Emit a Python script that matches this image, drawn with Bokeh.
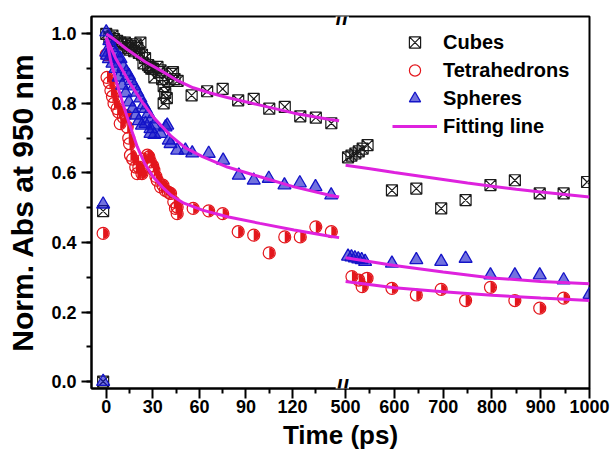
import numpy as np
from bokeh.plotting import figure
from bokeh.models import (Range1d, FixedTicker, SingleIntervalTicker, PrintfTickFormatter,
                          Legend, LegendItem, Label, Title, ColumnDataSource)
from bokeh.embed import file_html
from bokeh.resources import INLINE

# ---------------- data (time in ps, normalized absorbance) ----------------
cube_t = [-2, -2, 0, 2, 4, 5, 7, 9, 10, 12, 13, 14, 15, 16, 18, 19, 20, 21, 22, 23,
          24, 25, 27, 28, 29, 30, 31, 33, 34, 35, 36, 37, 37, 38, 39, 40, 42, 43, 44, 46,
          55, 65, 75, 85, 95, 105, 115, 125, 135, 145,
          505, 512, 520, 527, 535, 545, 595, 645, 696, 746, 797, 847, 898, 947, 995]
cube_v = [0.49, 0.0, 1.00, 0.99, 0.995, 0.985, 0.98, 0.975, 0.97, 0.975,
          0.97, 0.96, 0.955, 0.965, 0.95, 0.97, 0.96, 0.945, 0.975, 0.94,
          0.915, 0.93, 0.91, 0.905, 0.90, 0.90, 0.875, 0.905, 0.89, 0.895,
          0.87, 0.85, 0.80, 0.83, 0.815, 0.865, 0.885, 0.89, 0.87, 0.865,
          0.823, 0.835, 0.842, 0.809, 0.813, 0.785, 0.79, 0.763, 0.759, 0.743,
          0.645, 0.65, 0.656, 0.662, 0.67, 0.68,
          0.55, 0.555, 0.498, 0.522, 0.565, 0.579, 0.541, 0.541, 0.574]

tet_t = [-2, 0, 0.5, 2, 3, 4, 5, 7, 8, 9, 11, 12.5, 13.5, 14.5, 15, 15.6, 17, 19, 20, 21,
         23, 24, 26.5, 27.5, 28.5, 30, 30.7, 32, 32.8, 35, 36.5, 38, 40, 41.4, 43.5, 44.6,
         45.7, 45.7, 56, 66, 75, 85, 95, 105, 115, 125, 135, 145,
         513, 527, 534, 544, 595, 645, 696, 746, 797, 847, 898, 947]
tet_v = [0.426, 0.94, 0.875, 0.86, 0.837, 0.82, 0.80, 0.785, 0.775, 0.742,
         0.76, 0.766, 0.732, 0.70, 0.684, 0.651, 0.64, 0.617, 0.598, 0.617,
         0.598, 0.64, 0.651, 0.646, 0.632, 0.62, 0.608, 0.59, 0.579, 0.56,
         0.565, 0.55, 0.545, 0.541, 0.517, 0.498, 0.502, 0.483, 0.498, 0.491,
         0.483, 0.431, 0.421, 0.37, 0.416, 0.416, 0.445, 0.431,
         0.302, 0.292, 0.273, 0.297, 0.268, 0.249, 0.265, 0.233, 0.271, 0.233, 0.211, 0.24]

sph_t = [-2, -2, 0, 0, 0.5, 1.7, 2, 4, 4, 6, 6, 8, 8, 9.2, 10.3, 11, 12.5, 13, 14.6, 14.6,
         16, 17, 18, 18.9, 20, 21, 22, 23, 24, 25.3, 25.3, 27, 28.5, 28.5, 29, 30.7, 31, 35,
         38.2, 39.3, 40.3, 41.4, 45.7, 51, 55.4, 66, 75.3, 85.4, 95, 104.7, 114.8, 124.7,
         134.8, 144.9, 505, 512, 519, 526, 533, 540, 595, 645, 696, 746, 797, 847, 898, 947, 1000]
sph_v = [0.51, 0.0, 1.005, 0.947, 0.938, 0.928, 0.98, 0.96, 0.915, 0.945,
         0.90, 0.93, 0.875, 0.928, 0.852, 0.905, 0.83, 0.89, 0.88, 0.804,
         0.865, 0.785, 0.85, 0.766, 0.832, 0.75, 0.815, 0.737, 0.795, 0.785,
         0.742, 0.77, 0.727, 0.713, 0.755, 0.737, 0.71, 0.713, 0.732, 0.737,
         0.694, 0.684, 0.665, 0.665, 0.657, 0.656, 0.636, 0.593, 0.579, 0.584,
         0.565, 0.571, 0.56, 0.536,
         0.36, 0.358, 0.355, 0.352, 0.35, 0.345,
         0.34, 0.35, 0.345, 0.354, 0.306, 0.306, 0.306, 0.292, 0.25]

# fitting lines (left and right parts of the broken axis)
cube_fit_l_t = [0, 5, 13.5, 25, 35, 45, 56, 67, 78, 99, 121, 144, 150]
cube_fit_l_v = [1.0, 0.985, 0.955, 0.92, 0.895, 0.868, 0.845, 0.83, 0.817, 0.795, 0.772, 0.754, 0.75]
cube_fit_r_t = [500, 550, 600, 650, 700, 750, 800, 850, 900, 950, 1000]
cube_fit_r_v = [0.622, 0.612, 0.601, 0.591, 0.581, 0.571, 0.562, 0.553, 0.545, 0.538, 0.531]

tet_fit_l_t = [0, 3, 7, 11, 15, 20, 25, 30, 36, 42, 50, 62, 78, 99, 121, 144, 150]
tet_fit_l_v = [0.99, 0.92, 0.855, 0.795, 0.74, 0.675, 0.625, 0.59, 0.56, 0.535, 0.513, 0.493,
               0.474, 0.455, 0.436, 0.418, 0.414]
tet_fit_r_t = [500, 600, 700, 800, 900, 1000]
tet_fit_r_v = [0.288, 0.27, 0.258, 0.248, 0.24, 0.233]

sph_fit_l_t = [0, 6, 15, 23, 31, 42, 51, 62, 78, 99, 121, 144, 150]
sph_fit_l_v = [0.99, 0.93, 0.86, 0.805, 0.757, 0.705, 0.672, 0.647, 0.617, 0.589, 0.56, 0.536, 0.531]
sph_fit_r_t = [500, 600, 700, 800, 900, 1000]
sph_fit_r_v = [0.356, 0.334, 0.315, 0.298, 0.288, 0.281]

left_major = [0, 30, 60, 90, 120]
left_minor = [15, 45, 75, 105, 135]
right_major = [500, 600, 700, 800, 900, 1000]
right_minor = [550, 650, 750, 850, 950]

# ---------------- broken x axis: two linear pieces ----------------
L0, L1 = -9.5, 150.0
R0, R1 = 500.0, 1000.0
KL, KR, GAP = 1.553, 0.488, 6.5
U_R0 = (L1 - L0) * KL + GAP


def u(t):
    t = np.asarray(t, dtype=float)
    return np.where(t <= L1 + 1e-9, (t - L0) * KL, U_R0 + (t - R0) * KR)


U_END = float(u([R1])[0])
U_BREAK = ((L1 - L0) * KL + U_R0) / 2

RED = "#E3161C"
BLUE = "#1414C8"
MAG = "#DE22DE"
FONT = "Liberation Sans"

p = figure(width=612, height=453, output_backend="svg", toolbar_location=None,
           x_range=Range1d(0, U_END), y_range=Range1d(-0.02, 1.05),
           min_border_left=91, min_border_right=23, min_border_top=16, min_border_bottom=65)
p.grid.visible = False
p.outline_line_color = "black"
p.outline_line_width = 2
p.background_fill_color = "white"
p.border_fill_color = "white"

xt = [float(v) for v in u(left_major + right_major)]
xm = [float(v) for v in u(left_minor + right_minor)]
p.xaxis.ticker = FixedTicker(ticks=xt, minor_ticks=xm)
p.xaxis.major_label_overrides = {k: str(t) for k, t in zip(xt, left_major + right_major)}
p.yaxis.ticker = SingleIntervalTicker(interval=0.2, num_minor_ticks=2)
p.yaxis.formatter = PrintfTickFormatter(format="%.1f")

for ax in (p.xaxis[0], p.yaxis[0]):
    ax.axis_line_width = 2
    ax.major_tick_line_width = 2
    ax.minor_tick_line_width = 2
    ax.major_tick_out = 10
    ax.major_tick_in = 0
    ax.minor_tick_out = 5
    ax.minor_tick_in = 0
    ax.major_label_text_font = FONT
    ax.major_label_text_font_style = "bold"
    ax.major_label_text_color = "black"
    ax.axis_label_text_font = FONT
    ax.axis_label_text_font_style = "bold"
    ax.axis_label_text_color = "black"

p.xaxis.major_label_text_font_size = "18px"
p.xaxis.major_label_standoff = 1

p.yaxis.axis_label = "Norm. Abs at 950 nm"
p.yaxis.major_label_text_font_size = "18px"
p.yaxis.axis_label_text_font_size = "30px"
p.yaxis.major_label_standoff = 5
p.yaxis.axis_label_standoff = 9

# x-axis title as a title panel below the axis
p.add_layout(Title(text="Time (ps)", align="center", text_font=FONT, text_font_size="26px",
                   text_font_style="bold", text_color="black", standoff=4),
             "below")

# ---------------- markers ----------------
src_c = ColumnDataSource(dict(x=u(cube_t), y=cube_v))
src_t = ColumnDataSource(dict(x=u(tet_t), y=tet_v))
src_s = ColumnDataSource(dict(x=u(sph_t), y=sph_v))

r_cube = p.scatter("x", "y", source=src_c, marker="square_x", size=11,
                   line_color="#1a1a1a", fill_color=None, line_width=1.2)
r_tet = p.scatter("x", "y", source=src_t, marker="circle", size=12,
                  line_color=RED, fill_color=None, line_width=1.2)
p.wedge("x", "y", source=src_t, radius=5.5, radius_units="screen",
        start_angle=-np.pi / 2, end_angle=np.pi / 2, fill_color=RED, line_color=None)
r_sph = p.scatter("x", "y", source=src_s, marker="triangle", size=13,
                  line_color=BLUE, fill_color=BLUE, fill_alpha=0.6, line_width=1.3)

# ---------------- fitting lines ----------------
fits = [(cube_fit_l_t, cube_fit_l_v), (cube_fit_r_t, cube_fit_r_v),
        (tet_fit_l_t, tet_fit_l_v), (tet_fit_r_t, tet_fit_r_v),
        (sph_fit_l_t, sph_fit_l_v), (sph_fit_r_t, sph_fit_r_v)]
fit_renderers = []
for ft, fv in fits:
    fit_renderers.append(p.line(u(ft), fv, line_color=MAG, line_width=3))

# ---------------- legend ----------------
legend = Legend(items=[LegendItem(label="Cubes", renderers=[r_cube]),
                       LegendItem(label="Tetrahedrons", renderers=[r_tet]),
                       LegendItem(label="Spheres", renderers=[r_sph]),
                       LegendItem(label="Fitting line", renderers=[fit_renderers[0]])],
                location=(301, 248), padding=0, margin=0, spacing=0,
                glyph_width=45, glyph_height=28, label_height=28, label_standoff=6,
                border_line_color=None, background_fill_alpha=0,
                label_text_font=FONT, label_text_font_size="20px",
                label_text_font_style="bold", label_text_color="black")
p.add_layout(legend)

# ---------------- axis break marks ----------------
for yy in (-0.02, 1.05):
    p.add_layout(Label(x=U_BREAK, y=yy, text="//", text_align="center",
                       text_baseline="middle", text_font=FONT, text_font_size="24px",
                       text_font_style="bold", text_color="black",
                       background_fill_color="white"))

open("out.html", "w").write(file_html(p, INLINE))
